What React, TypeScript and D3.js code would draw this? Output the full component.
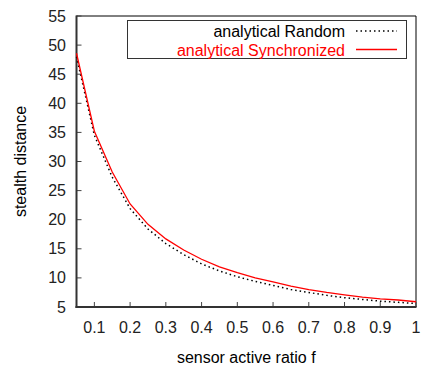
import React from "react";
import * as d3 from "d3";

const fValues = [0.05, 0.1, 0.15, 0.2, 0.25, 0.3, 0.35, 0.4, 0.45, 0.5, 0.55, 0.6, 0.65, 0.7, 0.75, 0.8, 0.85, 0.9, 0.95, 1.0];
const randomValues = [48.0, 34.5, 27.3, 21.9, 18.4, 15.9, 14.0, 12.4, 11.2, 10.2, 9.4, 8.7, 8.0, 7.5, 7.0, 6.6, 6.3, 6.0, 5.8, 5.6];
const syncValues = [48.6, 35.2, 28.2, 22.7, 19.2, 16.7, 14.8, 13.2, 11.9, 10.9, 10.0, 9.3, 8.6, 8.0, 7.5, 7.1, 6.7, 6.4, 6.2, 5.9];
const xTicks = [0.1, 0.2, 0.3, 0.4, 0.5, 0.6, 0.7, 0.8, 0.9, 1];
const yTicks = [5, 10, 15, 20, 25, 30, 35, 40, 45, 50, 55];
const seriesNames = ["analytical Random", "analytical Synchronized"];

const W = 431, H = 366;
const left = 76.5, right = 416, top = 16, bottom = 307;
const FONT = "'Liberation Sans', Arial, Helvetica, sans-serif";

export default function App() {
  const x = d3.scaleLinear().domain([0.05, 1]).range([left, right]);
  const y = d3.scaleLinear().domain([5, 55]).range([bottom, top]);
  const line = d3.line<number>().x((_, i) => x(fValues[i])).y((d) => y(d));
  const fmt = (v: number) => (v === 1 ? "1" : String(v));

  return (
    <svg width={W} height={H} style={{ position: "absolute", left: 0, top: 0, background: "#fff" }} fontFamily={FONT}>
      <rect x={0} y={0} width={W} height={H} fill="#fff" />
      <line x1={left} y1={top} x2={right} y2={top} stroke="#000" strokeWidth={1} />
      <line x1={right} y1={top} x2={right} y2={bottom} stroke="#000" strokeWidth={1} />
      {xTicks.map((t) => (
        <g key={"x" + t}>
          <line x1={x(t)} x2={x(t)} y1={bottom} y2={bottom - 5} stroke="#444" strokeWidth={1} />
          <text x={x(t)} y={327} textAnchor="middle" dominantBaseline="central" fontSize={16} fill="#222">{fmt(t)}</text>
        </g>
      ))}
      {yTicks.map((t) => (
        <g key={"y" + t}>
          <line x1={left} x2={left + 5} y1={y(t)} y2={y(t)} stroke="#444" strokeWidth={1} />
          <text x={66} y={y(t)} textAnchor="end" dominantBaseline="central" fontSize={16} fill="#222">{t}</text>
        </g>
      ))}
      <line x1={left} y1={top - 0.5} x2={left} y2={bottom + 1} stroke="#333" strokeWidth={2} />
      <line x1={left - 1} y1={bottom} x2={right + 0.5} y2={bottom} stroke="#333" strokeWidth={2} />
      <path d={line(randomValues) || ""} fill="none" stroke="#000" strokeWidth={1.5} strokeDasharray="1.5 3" />
      <path d={line(syncValues) || ""} fill="none" stroke="#ff0000" strokeWidth={1.3} />
      <rect x={127.5} y={20.5} width={279} height={38} fill="#fff" stroke="#333" strokeWidth={1} />
      <text x={345} y={31} textAnchor="end" dominantBaseline="central" fontSize={16} fill="#000">{seriesNames[0]}</text>
      <line x1={356} x2={397} y1={31} y2={31} stroke="#000" strokeWidth={1.5} strokeDasharray="1.5 3" />
      <text x={345} y={50} textAnchor="end" dominantBaseline="central" fontSize={16} fill="#ff0000">{seriesNames[1]}</text>
      <line x1={356} x2={397} y1={49.5} y2={49.5} stroke="#ff0000" strokeWidth={1.3} />
      <text x={(left + right) / 2} y={357} textAnchor="middle" dominantBaseline="central" fontSize={16} fill="#000">sensor active ratio f</text>
      <text transform={`translate(20,${(top + bottom) / 2}) rotate(-90)`} textAnchor="middle" dominantBaseline="central" fontSize={16} fill="#000">stealth distance</text>
    </svg>
  );
}
